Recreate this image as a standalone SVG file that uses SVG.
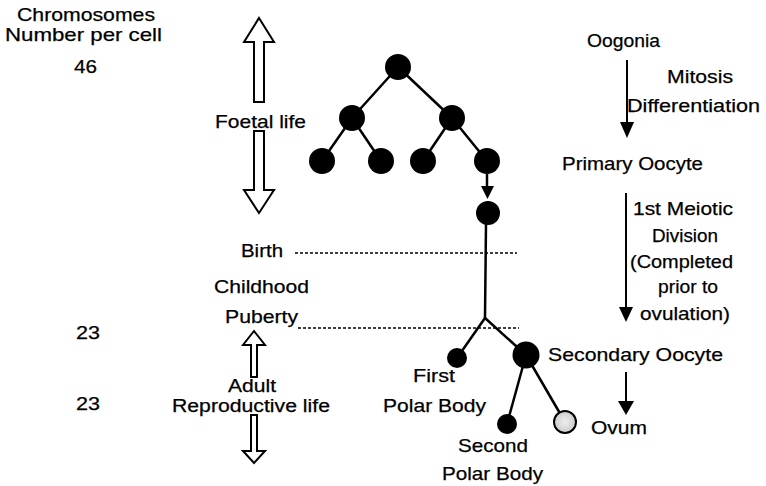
<svg xmlns="http://www.w3.org/2000/svg" width="766" height="486" viewBox="0 0 766 486">
<style>
text{font-family:"Liberation Sans",Arial,sans-serif;font-size:19px;fill:#000;stroke:#000;stroke-width:0.25}
text.sm{font-size:17.5px}
.cell{fill:#000}
.ln{stroke:#000;stroke-width:2.5;fill:none}
.dash{stroke:#000;stroke-width:1.5;stroke-dasharray:3 2;fill:none}
.big{fill:#fff;stroke:#000;stroke-width:2}
.arr{stroke:#000;stroke-width:2;fill:none}
.head{fill:#000}
</style>
<defs>
<radialGradient id="dot" cx="0.5" cy="0.5" r="0.5"><stop offset="0" stop-color="#eee"/><stop offset="1" stop-color="#ccc"/></radialGradient>
</defs>
<rect width="766" height="486" fill="#fff"/>

<g id="labels-left">
<text x="17" y="21" textLength="138" lengthAdjust="spacingAndGlyphs">Chromosomes</text>
<text x="5" y="41" textLength="157" lengthAdjust="spacingAndGlyphs">Number per cell</text>
<text x="74" y="73" textLength="23" lengthAdjust="spacingAndGlyphs">46</text>
<text x="76" y="339" textLength="24" lengthAdjust="spacingAndGlyphs">23</text>
<text x="76" y="410" textLength="24" lengthAdjust="spacingAndGlyphs">23</text>
</g>

<g id="life-stages">
<path class="big" d="M259,18 L274,42 L264,42 L264,102 L254,102 L254,42 L244,42 Z"/>
<text x="215" y="128" textLength="91" lengthAdjust="spacingAndGlyphs">Foetal life</text>
<path class="big" d="M254,131 L264,131 L264,190 L274,190 L259,213 L244,190 L254,190 Z"/>
<text x="241" y="257" textLength="42" lengthAdjust="spacingAndGlyphs">Birth</text>
<text x="214" y="293" textLength="95" lengthAdjust="spacingAndGlyphs">Childhood</text>
<text x="225" y="323" textLength="73" lengthAdjust="spacingAndGlyphs">Puberty</text>
<path class="big" d="M254,331 L265,345 L257,345 L257,377 L251,377 L251,345 L243,345 Z"/>
<text class="sm" x="228" y="392" textLength="48" lengthAdjust="spacingAndGlyphs">Adult</text>
<text class="sm" x="172" y="412" textLength="158" lengthAdjust="spacingAndGlyphs">Reproductive life</text>
<path class="big" d="M251,415 L257,415 L257,451 L265,451 L254,463 L243,451 L251,451 Z"/>
</g>

<g id="connectors">
<line class="dash" x1="295" y1="253" x2="517" y2="253"/>
<line class="dash" x1="298" y1="328" x2="519" y2="328"/>
<line class="ln" x1="398" y1="67" x2="352" y2="118"/>
<line class="ln" x1="398" y1="67" x2="452" y2="118"/>
<line class="ln" x1="352" y1="118" x2="322" y2="161"/>
<line class="ln" x1="352" y1="118" x2="381" y2="161"/>
<line class="ln" x1="452" y1="118" x2="423" y2="161"/>
<line class="ln" x1="452" y1="118" x2="487" y2="161"/>
<line class="ln" x1="487" y1="174" x2="487" y2="189"/>
<path class="head" d="M481,186 L494,186 L487.5,199 Z"/>
<line class="ln" x1="486" y1="224" x2="485" y2="318"/>
<line class="ln" x1="485" y1="318" x2="457" y2="358"/>
<line class="ln" x1="485" y1="318" x2="526" y2="355"/>
<line class="ln" x1="526" y1="355" x2="507" y2="424"/>
<line class="ln" x1="526" y1="355" x2="565" y2="422"/>
<line class="arr" x1="627" y1="60" x2="627" y2="125"/>
<path class="head" d="M620,122 L634,122 L627,138 Z"/>
<line class="arr" x1="626" y1="193" x2="626" y2="310"/>
<path class="head" d="M619,307 L633,307 L626,322 Z"/>
<line class="arr" x1="626" y1="372" x2="626" y2="404"/>
<path class="head" d="M618,401 L634,401 L626,415 Z"/>
</g>

<g id="oogonia-tree">
<circle class="cell" cx="398" cy="67" r="13"/>
<circle class="cell" cx="352" cy="118" r="13"/>
<circle class="cell" cx="452" cy="118" r="13"/>
<circle class="cell" cx="322" cy="161" r="13"/>
<circle class="cell" cx="381" cy="161" r="13"/>
<circle class="cell" cx="423" cy="161" r="13"/>
<circle class="cell" cx="487" cy="161" r="13"/>
</g>
<g id="primary-oocyte">
<circle class="cell" cx="488" cy="213" r="12"/>
</g>
<g id="first-polar-body">
<circle class="cell" cx="457" cy="358" r="10"/>
<text x="413" y="382" textLength="42" lengthAdjust="spacingAndGlyphs">First</text>
<text x="383" y="412" textLength="103" lengthAdjust="spacingAndGlyphs">Polar Body</text>
</g>
<g id="secondary-oocyte">
<circle class="cell" cx="526" cy="355" r="13.5"/>
</g>
<g id="second-polar-body">
<circle class="cell" cx="507" cy="424" r="10"/>
<text x="458" y="452" textLength="70" lengthAdjust="spacingAndGlyphs">Second</text>
<text x="442" y="480" textLength="101" lengthAdjust="spacingAndGlyphs">Polar Body</text>
</g>
<g id="ovum">
<circle cx="565" cy="422" r="11" fill="url(#dot)" stroke="#000" stroke-width="2"/>
</g>

<g id="labels-right">
<text x="587" y="47" textLength="73" lengthAdjust="spacingAndGlyphs">Oogonia</text>
<text x="667" y="83" textLength="66" lengthAdjust="spacingAndGlyphs">Mitosis</text>
<text x="627" y="112" textLength="133" lengthAdjust="spacingAndGlyphs">Differentiation</text>
<text x="562" y="170" textLength="141" lengthAdjust="spacingAndGlyphs">Primary Oocyte</text>
<text x="633" y="215" textLength="100" lengthAdjust="spacingAndGlyphs">1st Meiotic</text>
<text x="652" y="242" textLength="66" lengthAdjust="spacingAndGlyphs">Division</text>
<text x="630" y="268" textLength="103" lengthAdjust="spacingAndGlyphs">(Completed</text>
<text x="658" y="293" textLength="60" lengthAdjust="spacingAndGlyphs">prior to</text>
<text x="640" y="320" textLength="90" lengthAdjust="spacingAndGlyphs">ovulation)</text>
<text x="548" y="361" textLength="175" lengthAdjust="spacingAndGlyphs">Secondary Oocyte</text>
<text x="591" y="434" textLength="56" lengthAdjust="spacingAndGlyphs">Ovum</text>
</g>
</svg>
